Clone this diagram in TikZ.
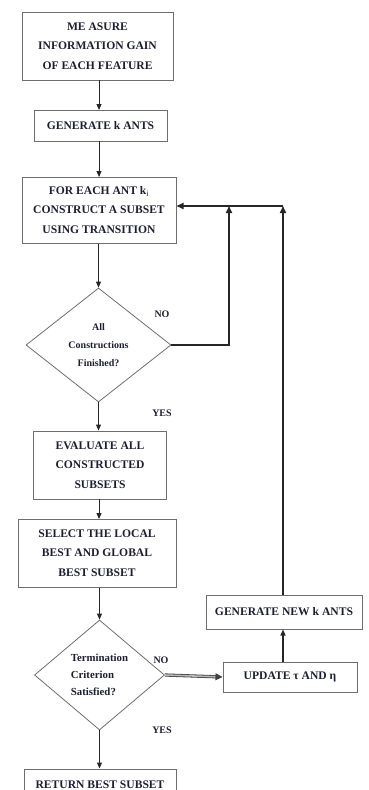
\documentclass[tikz,border=0pt]{standalone}
\usepackage{fontspec}
\setmainfont{Liberation Serif}
\usetikzlibrary{shapes.geometric,arrows.meta}
\definecolor{txt}{RGB}{30,30,50}
\definecolor{edge}{RGB}{110,110,110}
\tikzset{
  box/.style={draw=edge, line width=1pt, rectangle, inner sep=0pt, align=center, text=txt,
    font=\bfseries\fontsize{11.6}{19.5}\selectfont},
  dia/.style={draw=edge, line width=0.8pt, diamond, inner sep=0pt, text=txt,
    font=\bfseries\fontsize{10}{18}\selectfont},
  lbl/.style={text=txt, font=\bfseries\fontsize{10}{11}\selectfont, inner sep=0pt},
  arr/.style={line width=1pt, draw=black!85, -{Triangle[width=5pt,length=6pt]}},
  loop/.style={line width=1.6pt, draw=black!85, -{Triangle[width=6pt,length=7pt]}},
  dbl/.style={draw=black!75, double=gray!55, double distance=1.6pt, line width=0.8pt,
    -{Triangle[width=7pt,length=7pt]}}
}
\begin{document}
\begin{tikzpicture}[x=1pt,y=-1pt]
\useasboundingbox (0,0) rectangle (368,790);
\begin{scope}
\clip (0,0) rectangle (368,790);
\node[box, minimum width=151pt, minimum height=68pt] (b1) at (97.5,46) {ME ASURE\\INFORMATION GAIN\\OF EACH FEATURE};
\node[box, minimum width=133pt, minimum height=31pt] (b2) at (100.5,125.5) {GENERATE k ANTS};
\node[box, minimum width=154pt, minimum height=66pt] (b3) at (99,210) {FOR EACH ANT k$_{\mathrm{i}}$\\CONSTRUCT A SUBSET\\USING TRANSITION};
\node[dia, minimum width=145pt, minimum height=114pt, align=center] (d1) at (98.5,345) {All\\Constructions\\Finished?};
\node[box, minimum width=133pt, minimum height=68pt] (b4) at (100,465) {EVALUATE ALL\\CONSTRUCTED\\SUBSETS};
\node[box, minimum width=158pt, minimum height=68pt] (b5) at (97,553) {SELECT THE LOCAL\\BEST AND GLOBAL\\BEST SUBSET};
\node[dia, minimum width=130pt, minimum height=110pt, align=left, font=\bfseries\fontsize{10.8}{17}\selectfont] (d2) at (99.5,675) {Termination\\Criterion\\Satisfied?};
\node[box, minimum width=152pt, minimum height=32pt] (b6) at (100,785) {RETURN BEST SUBSET};
\node[box, minimum width=134pt, minimum height=30pt] (u) at (290,677) {UPDATE τ AND η};
\node[box, minimum width=156pt, minimum height=34pt] (g) at (284,612) {GENERATE NEW k ANTS};
\end{scope}

\node[lbl] (no1) at (162,314) {NO};
\node[lbl] (yes1) at (162,413) {YES};
\node[lbl] (no2) at (161,660) {NO};
\node[lbl] (yes2) at (162,730) {YES};

\coordinate (c1) at (229,345);
\coordinate (c2) at (229,206);
\coordinate (c3) at (283,206);
\coordinate (c4) at (176.5,206);

\draw[arr] (99,80) -- (99,110);
\draw[arr] (99,141) -- (99,177);
\draw[arr] (b3.south -| d1.north) -- (d1.north);
\draw[arr] (d1.south) -- (b4.north -| d1.south);
\draw[arr] (99,499) -- (99,519);
\draw[arr] (b5.south -| d2.north) -- (d2.north);
\draw[arr] (d2.south) -- (b6.north -| d2.south);
\draw[loop] (d1.east) -- (c1) -- (c2);
\draw[loop] (g.north -| c3) -- (c3);
\draw[loop] (c3) -- (c4);
\draw[dbl] (d2.east) -- (u.west);
\draw[arr, line width=1.4pt] (u.north -| c3) -- (g.south -| c3);
\end{tikzpicture}
\end{document}
